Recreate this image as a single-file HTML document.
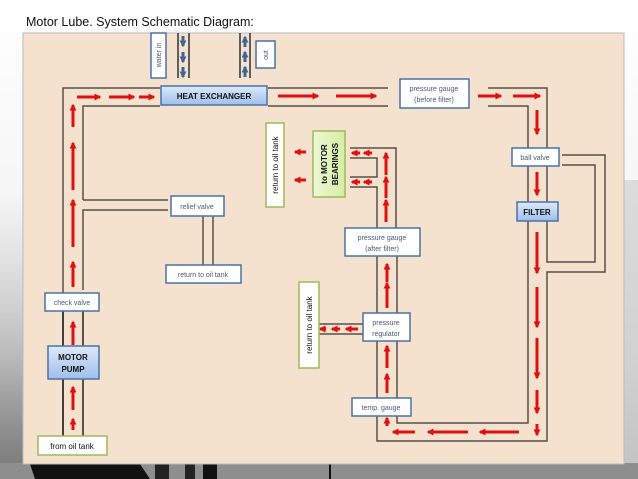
<!DOCTYPE html>
<html><head><meta charset="utf-8"><style>
body{margin:0;width:638px;height:479px;overflow:hidden;background:#fff;}
svg{display:block}
text{font-family:"Liberation Sans",sans-serif;}
</style></head><body>
<svg width="638" height="479" viewBox="0 0 638 479" xmlns="http://www.w3.org/2000/svg">
<defs>
<linearGradient id="bg" x1="0" y1="0" x2="0" y2="1">
<stop offset="0" stop-color="#ffffff"/><stop offset="0.4" stop-color="#f6f6f6"/><stop offset="0.75" stop-color="#c4c4c4"/><stop offset="1" stop-color="#777"/></linearGradient>
<linearGradient id="lg" x1="0" y1="0" x2="0" y2="1">
<stop offset="0" stop-color="#ddd" stop-opacity="0"/><stop offset="1" stop-color="#777"/></linearGradient>
<linearGradient id="blue" x1="0" y1="0" x2="0" y2="1">
<stop offset="0" stop-color="#dce9fb"/><stop offset="1" stop-color="#9fbfeb"/></linearGradient>
<linearGradient id="green" x1="0" y1="0" x2="1" y2="0">
<stop offset="0" stop-color="#eef8d6"/><stop offset="1" stop-color="#d5eea4"/></linearGradient>
<marker id="ah" viewBox="0 0 10 10" refX="8" refY="5" markerWidth="2.3" markerHeight="2.3" orient="auto"><path d="M0,0 L10,5 L0,10 z" fill="#e01010"/></marker>
<marker id="bh" viewBox="0 0 10 10" refX="8" refY="5" markerWidth="2.3" markerHeight="2.3" orient="auto"><path d="M0,0 L10,5 L0,10 z" fill="#3f6597"/></marker>
</defs>
<rect width="638" height="479" fill="url(#bg)"/>
<rect x="0" y="250" width="23" height="229" fill="url(#lg)"/>
<rect x="624" y="180" width="14" height="299" fill="#d4d4d4" opacity="0.8"/>
<rect x="0" y="463" width="638" height="16" fill="#8e8e8e"/>
<path d="M30,464 L140,464 L150,479 L35,479z" fill="#111"/>
<rect x="155" y="464" width="14" height="15" fill="#222"/><rect x="185" y="464" width="10" height="15" fill="#222"/><rect x="203" y="464" width="14" height="15" fill="#111"/>
<rect x="329" y="464" width="2" height="15" fill="#111"/>
<text x="26" y="26" font-size="12.5" fill="#111">Motor Lube. System Schematic Diagram:</text>
<rect x="23" y="33" width="601" height="431" fill="#f4e2cf" stroke="#bbb" stroke-width="1"/>

<g fill="none" stroke="#5a5048" stroke-width="1.5">
<path d="M178,33V78M189,33V78M240,33V78M250,33V78" stroke="#333"/>
<path d="M63,440V88H160M83,290V210H168M83,200V106H160M83,200H168M63,88"/>
<path d="M203,216V265M213,216V265"/>
<path d="M268,88H388M268,106H388M488,88H547V148M488,106H528V148"/>
<path d="M562,155H605V272H547V441H377V256M562,165H595V262H547V221M547,166V202M528,166V202M528,221V423H397V256"/>
<path d="M350,148H396V228M350,158H377V177H350M350,187H377V228"/>
<path d="M319,324H363M319,334H363"/>
<path d="M63,311V346M83,311V346M63,379V436M83,379V436" stroke="#222"/>
</g>

<g stroke="#e01010" stroke-width="3" marker-end="url(#ah)">
<line x1="77" y1="97" x2="100" y2="97"/><line x1="109" y1="97" x2="134" y2="97"/><line x1="139" y1="97" x2="154" y2="97"/>
<line x1="278" y1="96" x2="318" y2="96"/><line x1="336" y1="96" x2="376" y2="96"/>
<line x1="478" y1="96" x2="501" y2="96"/><line x1="513" y1="96" x2="540" y2="96"/>
<line x1="537" y1="110" x2="537" y2="134"/><line x1="537" y1="172" x2="537" y2="195"/>
<line x1="537" y1="232" x2="537" y2="273"/><line x1="537" y1="287" x2="537" y2="327"/><line x1="537" y1="338" x2="537" y2="378"/><line x1="537" y1="390" x2="537" y2="413"/><line x1="537" y1="424" x2="537" y2="435"/>
<line x1="519" y1="432" x2="480" y2="432"/><line x1="468" y1="432" x2="428" y2="432"/><line x1="415" y1="432" x2="393" y2="432"/>
<line x1="387" y1="426" x2="387" y2="418"/><line x1="387" y1="393" x2="387" y2="374"/><line x1="387" y1="368" x2="387" y2="346"/>
<line x1="387" y1="308" x2="387" y2="283"/><line x1="387" y1="282" x2="387" y2="264"/>
<line x1="386" y1="222" x2="386" y2="200"/><line x1="386" y1="198" x2="386" y2="177"/><line x1="386" y1="175" x2="386" y2="153"/>
<line x1="372" y1="153" x2="364" y2="153"/><line x1="360" y1="153" x2="352" y2="153"/>
<line x1="372" y1="182" x2="364" y2="182"/><line x1="360" y1="182" x2="352" y2="182"/>
<line x1="306" y1="152" x2="295" y2="152"/><line x1="306" y1="180" x2="295" y2="180"/>
<line x1="358" y1="329" x2="346" y2="329"/><line x1="340" y1="329" x2="332" y2="329"/><line x1="326" y1="329" x2="320" y2="329"/>
<line x1="73" y1="430" x2="73" y2="419"/><line x1="73" y1="410" x2="73" y2="387"/><line x1="73" y1="345" x2="73" y2="322"/>
<line x1="73" y1="287" x2="73" y2="262"/><line x1="73" y1="247" x2="73" y2="200"/><line x1="73" y1="190" x2="73" y2="143"/><line x1="73" y1="127" x2="73" y2="105"/>
</g>
<g stroke="#3f6597" stroke-width="3">
<line x1="183" y1="36" x2="183" y2="46" marker-end="url(#bh)"/><line x1="183" y1="52" x2="183" y2="62" marker-end="url(#bh)"/><line x1="183" y1="67" x2="183" y2="77" marker-end="url(#bh)"/>
<line x1="245" y1="77" x2="245" y2="67" marker-end="url(#bh)"/><line x1="245" y1="62" x2="245" y2="52" marker-end="url(#bh)"/><line x1="245" y1="47" x2="245" y2="37" marker-end="url(#bh)"/>
</g>

<g stroke="#4a72a6" stroke-width="1.5" fill="#fff">
<rect x="151" y="33" width="15" height="45"/>
<rect x="256" y="41" width="19" height="27"/>
<rect x="400" y="79" width="69" height="29"/>
<rect x="512" y="148" width="47" height="18"/>
<rect x="171" y="196" width="53" height="20"/>
<rect x="166" y="265" width="75" height="18"/>
<rect x="345" y="228" width="75" height="28"/>
<rect x="45" y="293" width="54" height="18"/>
<rect x="363" y="313" width="47" height="28"/>
<rect x="352" y="398" width="59" height="18"/>
</g>
<g stroke="#4a72a6" stroke-width="1.5" fill="url(#blue)">
<rect x="161" y="86" width="106" height="19"/>
<rect x="517" y="202" width="41" height="19"/>
<rect x="48" y="346" width="51" height="33"/>
</g>
<g stroke="#9bbb59" stroke-width="1.5">
<rect x="266" y="123" width="18" height="84" fill="#fff"/>
<rect x="313" y="131" width="32" height="66" fill="url(#green)"/>
<rect x="299" y="282" width="20" height="86" fill="#fff"/>
<rect x="38" y="436" width="69" height="19" fill="#fff"/>
</g>

<g font-size="7" fill="#4a5a78" text-anchor="middle">
<text x="434" y="91">pressure gauge</text><text x="434" y="102">(before filter)</text>
<text x="535" y="160">ball valve</text>
<text x="197" y="209">relief valve</text>
<text x="203" y="277">return to oil tank</text>
<text x="382" y="240">pressure gauge</text><text x="382" y="251">(after filter)</text>
<text x="72" y="305">check valve</text>
<text x="386" y="325">pressure</text><text x="386" y="336">regulator</text>
<text x="381" y="410">temp. gauge</text>
<text transform="translate(161,55) rotate(-90)" font-size="7">water in</text>
<text transform="translate(268,55) rotate(-90)" font-size="7">out</text>
</g>
<g font-size="8" font-weight="bold" fill="#111" text-anchor="middle">
<text x="214" y="99">HEAT EXCHANGER</text>
<text x="537" y="215">FILTER</text>
<text x="73" y="360">MOTOR</text><text x="73" y="372">PUMP</text>
<text transform="translate(327,164) rotate(-90)">to  MOTOR</text>
<text transform="translate(338,164) rotate(-90)">BEARINGS</text>
</g>
<g font-size="8" fill="#111" text-anchor="middle">
<text transform="translate(278,165) rotate(-90)">return to oil tank</text>
<text transform="translate(312,325) rotate(-90)">return to oil tank</text>
<text x="72" y="449">from oil tank</text>
</g>
</svg>
</body></html>
